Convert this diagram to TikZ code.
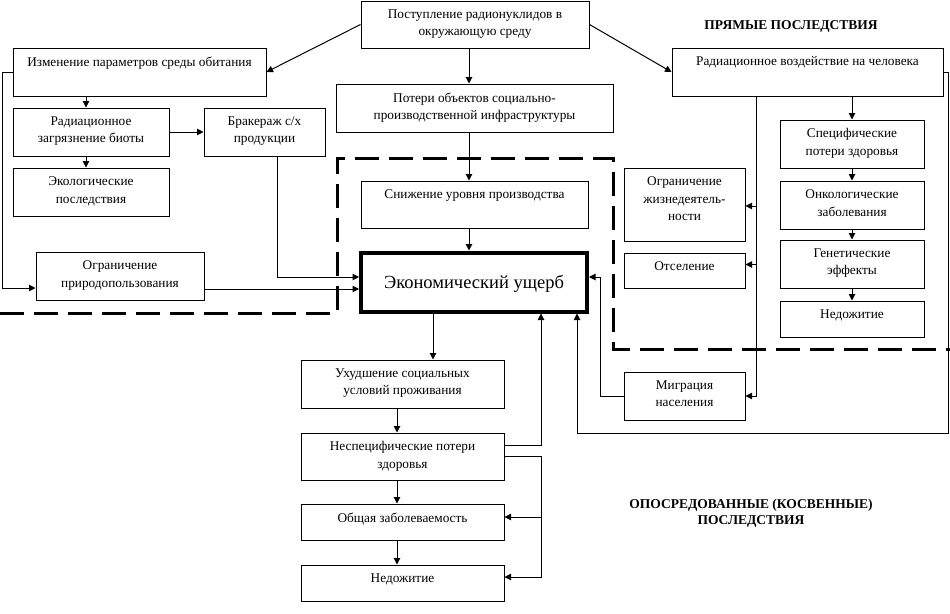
\documentclass[tikz,border=0pt]{standalone}
\usepackage{fontspec}
\setmainfont{Liberation Serif}
\usetikzlibrary{arrows.meta}
\tikzset{
 box/.style={draw, line width=1pt, inner sep=0pt},
 txt/.style={font=\fontsize{13.3}{17.5}\selectfont, align=center, inner sep=0pt},
 arr/.style={line width=1pt, -{Triangle[length=6.5pt,width=6.5pt]}},
 ln/.style={line width=1pt},
 hd/.style={font=\fontsize{13.5}{15.5}\selectfont\bfseries, align=center, inner sep=0pt},
 dsh/.style={line width=3pt, dash pattern=on 24pt off 10pt},
}
\newcommand\mybox[6]{%
 \pgfmathsetmacro\bw{#4-#2}%
 \pgfmathsetmacro\bh{#5-#3}%
 \node[box,minimum width=\bw pt,minimum height=\bh pt] (#1) at ({(#2+#4)/2},{(#3+#5)/2}) {};%
 \node[txt,anchor=north] (#1t) at ([yshift=-9pt]#1.north) {#6};%
}
\begin{document}
\begin{tikzpicture}[x=1pt,y=-1pt]
\useasboundingbox (0,0) rectangle (950,613);
% dashed region
\draw[dsh] (0,313) -- (337,313) -- (337,158) -- (613,158) -- (613,349) -- (950,349);
% boxes
\mybox{top}{361}{1}{589}{48}{Поступление радионуклидов в\\окружающую среду}
\mybox{izm}{13}{48}{266}{96}{Изменение параметров среды обитания}
\mybox{pot}{336}{84}{613}{132}{Потери объектов социально-\\производственной инфраструктуры}
\mybox{rad}{672}{48}{943}{96}{Радиационное воздействие на человека}
\mybox{rzag}{13}{108}{169}{156}{Радиационное\\загрязнение биоты}
\mybox{brak}{204}{108}{325}{156}{Бракераж с/х\\продукции}
\mybox{ekol}{13}{168}{169}{216}{Экологические\\последствия}
\mybox{ogrp}{36}{252}{204}{300}{Ограничение\\природопользования}
\mybox{sniz}{361}{181}{588}{228}{Снижение уровня производства}
\mybox{spec}{780}{120}{924}{168}{Специфические\\потери здоровья}
\mybox{onk}{780}{181}{924}{229}{Онкологические\\заболевания}
\mybox{gen}{780}{240}{924}{288}{Генетические\\эффекты}
\mybox{nedA}{780}{301}{924}{337}{Недожитие}
\mybox{ogrz}{624}{168}{745}{241}{Ограничение\\жизнедеятель-\\ности}
\mybox{ots}{624}{253}{745}{288}{Отселение}
\mybox{migr}{624}{372}{745}{420}{Миграция\\населения}
\mybox{ukh}{301}{360}{504}{408}{Ухудшение социальных\\условий проживания}
\mybox{nesp}{301}{433}{504}{480}{Неспецифические потери\\здоровья}
\mybox{obsh}{301}{504}{504}{540}{Общая заболеваемость}
\mybox{nedB}{301}{565}{504}{601}{Недожитие}
% economic damage
\node[draw, line width=4pt, minimum width=226pt, minimum height=59pt, inner sep=0pt] (econ) at (474,282) {};
\node[font=\fontsize{18.5}{21}\selectfont, inner sep=0pt] (econt) at (474,284) {Экономический ущерб};
% headings
\node[hd] (h1) at (791,26) {ПРЯМЫЕ ПОСЛЕДСТВИЯ};
\node[hd] (h2) at (751,513) {ОПОСРЕДОВАННЫЕ (КОСВЕННЫЕ)\\ПОСЛЕДСТВИЯ};
% connectors
\draw[arr] (top.west) -- (izm.east);
\draw[arr] (top.east) -- (rad.west);
\draw[arr] (top.south -| 469,0) -- (pot.north -| 469,0);
\draw[arr] (pot.south -| 469,0) -- (sniz.north -| 469,0);
\draw[arr] (sniz.south -| 469,0) -- (econ.north -| 469,0);
\draw[arr] (izm.south -| 86,0) -- (rzag.north -| 86,0);
\draw[arr] (rzag.south -| 86,0) -- (ekol.north -| 86,0);
\draw[arr] (rzag) -- (brak);
\draw[arr] (brak.south -| 277,0) |- (econ.west |- 0,277);
\draw[arr] (izm.west) -- ++(-10,0) |- (ogrp.west |- 0,288);
\draw[arr] (ogrp.east |- 0,289) -- (econ.west |- 0,289);
\draw[arr] (rad.south -| spec.north) -- (spec.north);
\draw[arr] (spec) -- (onk);
\draw[arr] (onk) -- (gen);
\draw[arr] (gen) -- (nedA);
\coordinate (vl) at (756,0);
\draw[arr] (rad.south -| vl) |- (migr.east);
\draw[arr] ([yshift=-1.5pt]ogrz.east -| vl) -- ([yshift=-1.5pt]ogrz.east);
\draw[arr] ([yshift=6pt]ots.east -| vl) -- ([yshift=6pt]ots.east);
\draw[arr] (rad.east) -- ++(5,0) |- (577,433) -- (econ.south -| 577,0);
\draw[arr] (migr.west) -- ++(-23,0) |- (econ.east |- 0,277);
\draw[arr] (econ.south -| 433,0) -- (ukh.north -| 433,0);
\draw[arr] (ukh.south -| 397,0) -- (nesp.north -| 397,0);
\draw[arr] (nesp.south -| 397,0) -- (obsh.north -| 397,0);
\draw[arr] (obsh.south -| 397,0) -- (nedB.north -| 397,0);
\draw[arr] (nesp.east |- 0,445) -| (econ.south -| 541,0);
\draw[arr] (nesp.east) -- ++(37,0) |- ([yshift=6pt]nedB.east);
\draw[arr] ([yshift=5pt]obsh.east -| 541,0) -- ([yshift=5pt]obsh.east);
\end{tikzpicture}
\end{document}
